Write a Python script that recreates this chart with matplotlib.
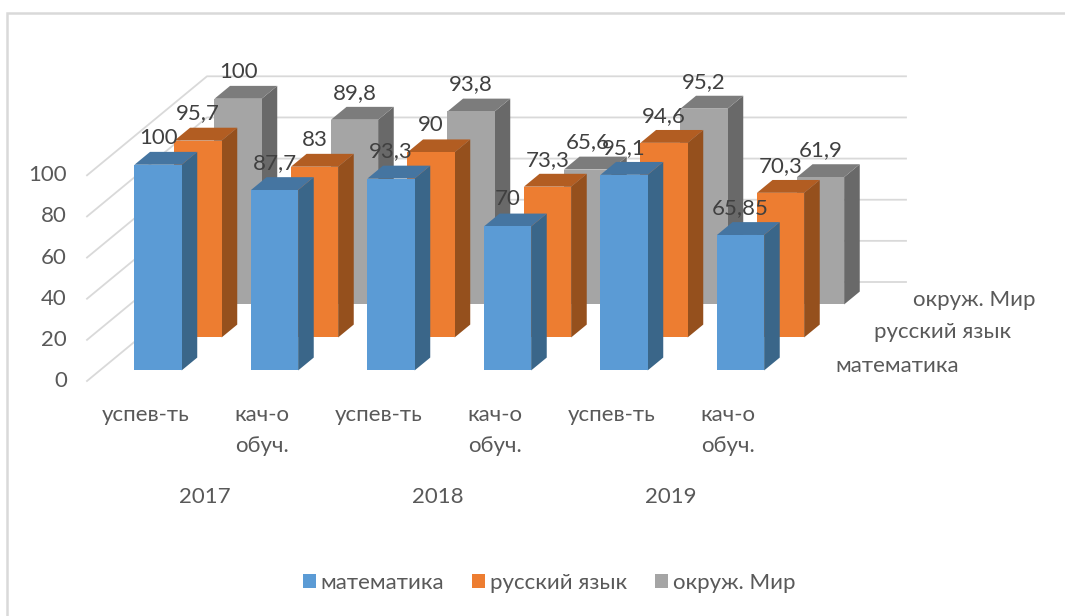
import matplotlib
matplotlib.use('Agg')
import matplotlib.pyplot as plt
from matplotlib.patches import Polygon, Patch

plt.rcParams['font.family'] = ['Lato', 'Open Sans', 'DejaVu Sans']

# data
categories = ['успев-ть', 'кач-о\nобуч.', 'успев-ть', 'кач-о\nобуч.', 'успев-ть', 'кач-о\nобуч.']
years = ['2017', '2018', '2019']
series_names = ['математика', 'русский язык', 'окруж. Мир']
matem = [100, 87.7, 93.3, 70, 95.1, 65.85]
russk = [95.7, 83, 90, 73.3, 94.6, 70.3]
okruj = [100, 89.8, 93.8, 65.6, 95.2, 61.9]
y_ticks = [0, 20, 40, 60, 80, 100]

# front, top, side colours for each series
colors = [('#5B9BD5', '#4575A1', '#3A6689'),
          ('#ED7D31', '#B25D22', '#95501D'),
          ('#A5A5A5', '#7C7C7C', '#696969')]
txt = '#595959'
fs = 16

# projection of the fake 3d box to pixels
X0, Y0 = 87, 381
CAT_W = 116.5
DX, DY = 40, 33
VAL = 2.057
BAR_W = 0.405
S_GAP = 0.32
S_D = 0.39


def proj(cat, s, v):
    return (X0 + CAT_W * cat + DX * s, Y0 - DY * s - VAL * v)


fig = plt.figure(figsize=(10.65, 6.16), dpi=100)
ax = fig.add_axes([0, 0, 1, 1])
ax.set_xlim(0, 1065)
ax.set_ylim(616, 0)
ax.axis('off')

# chart frame
ax.plot([7, 7, 1065], [616, 13, 13], color='#D9D9D9', lw=1.8, solid_joinstyle='miter', zorder=1)

# walls
for t in y_ticks:
    ax.plot(*zip(proj(0, 0, t), proj(0, 3, t), proj(6, 3, t)), color='#D9D9D9', lw=1.3, zorder=1)
    x, y = proj(0, 0, t)
    ax.text(x - 20, y, str(t), ha='right', va='center', fontsize=fs, color=txt)

# bars, back row first
rows = [matem, russk, okruj]
for k in [2, 1, 0]:
    front, top, side = colors[k]
    s0 = k + S_GAP
    s1 = s0 + S_D
    for i, v in enumerate(rows[k]):
        c0 = i + (1 - BAR_W) / 2
        c1 = c0 + BAR_W
        ax.add_patch(Polygon([proj(c1, s0, 0), proj(c1, s1, 0), proj(c1, s1, v), proj(c1, s0, v)],
                             fc=side, ec='none', zorder=3))
        ax.add_patch(Polygon([proj(c0, s0, v), proj(c1, s0, v), proj(c1, s1, v), proj(c0, s1, v)],
                             fc=top, ec='none', zorder=3))
        ax.add_patch(Polygon([proj(c0, s0, 0), proj(c1, s0, 0), proj(c1, s0, v), proj(c0, s0, v)],
                             fc=front, ec='none', zorder=3))

# value labels on top of everything
for k in [2, 1, 0]:
    for i, v in enumerate(rows[k]):
        x, y = proj(i + 0.5, k + S_GAP, v)
        ax.text(x, y - 27, f'{v:g}'.replace('.', ','), ha='center', va='center',
                fontsize=fs, color='#404040', zorder=5)

# category and year labels
for i, c in enumerate(categories):
    ax.text(proj(i + 0.5, 0, 0)[0], 405, c, ha='center', va='top', fontsize=fs, color=txt,
            linespacing=1.7)
for i, y in enumerate(years):
    ax.text(proj(2 * i + 1, 0, 0)[0] + 1.5, 497, y, ha='center', va='center', fontsize=fs, color=txt)

# series names along the depth axis
for k, name in enumerate(series_names):
    ax.text(815 + DX * (k + 0.5) - k, Y0 - DY * (k + 0.5) + 1, name, ha='left', va='center',
            fontsize=fs, color=txt)

handles = [Patch(fc=colors[k][0], ec='none', label=series_names[k]) for k in range(3)]
ax.legend(handles=handles, ncol=3, loc='center', bbox_to_anchor=(549, 583),
          bbox_transform=ax.transData, frameon=False, fontsize=fs, labelcolor=txt,
          handlelength=0.58, handleheight=0.58, handletextpad=0.22, columnspacing=1.25)

fig.savefig('out.png', dpi=100)
